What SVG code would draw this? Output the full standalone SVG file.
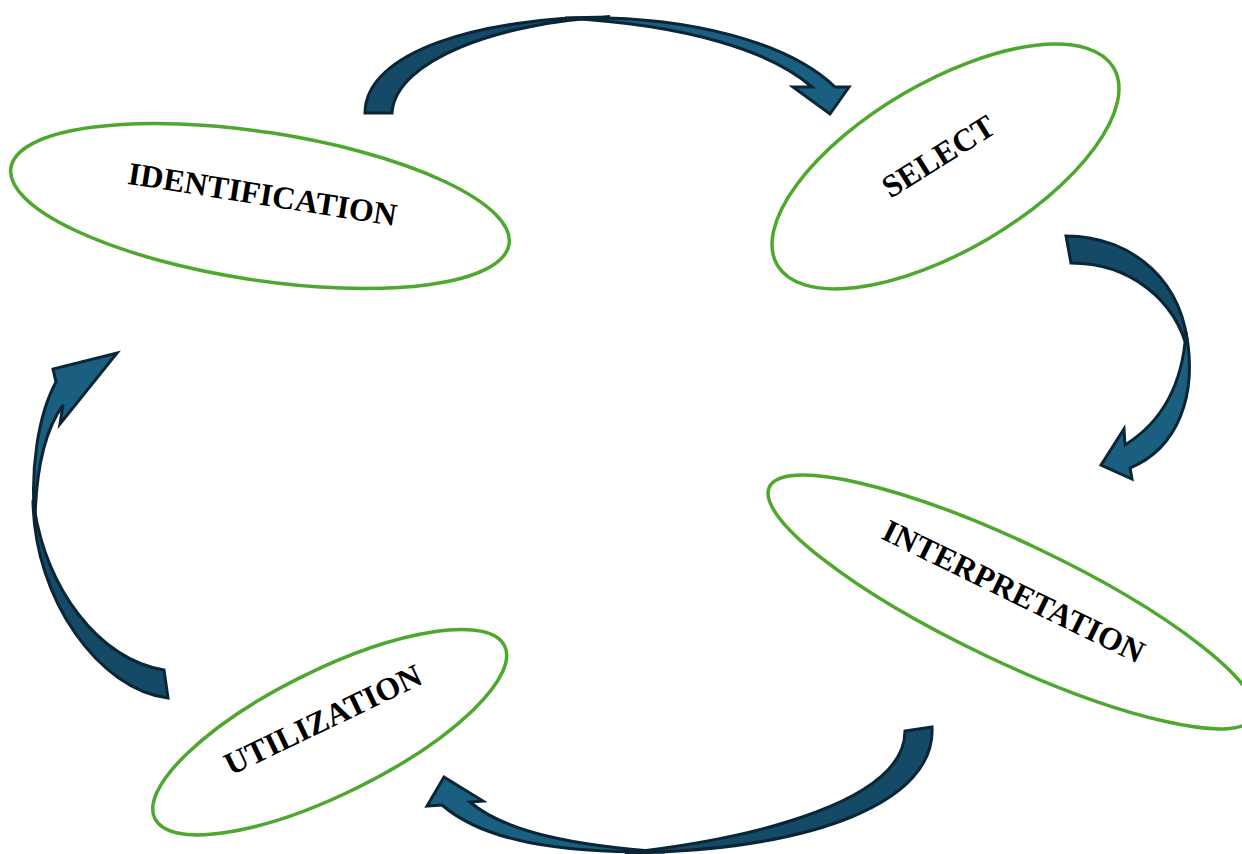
<svg xmlns="http://www.w3.org/2000/svg" width="1242" height="854" viewBox="0 0 1242 854">
  <style>
    .stage { fill: #ffffff; stroke: #4ea72e; stroke-width: 3.5; }
    .label { font-family: "Liberation Serif", "Times New Roman", serif; font-weight: bold; font-size: 32px; fill: #000000; text-anchor: middle; }
    .back { fill: #154a67; stroke: #0a2535; stroke-width: 3; stroke-linejoin: miter; }
    .front { fill: #1a5f80; stroke: #0a2535; stroke-width: 3; stroke-linejoin: miter; }
  </style>
  <rect width="1242" height="854" fill="#ffffff"/>

  <!-- curved arrows linking the stages -->
  <g id="connectors">
    <!-- IDENTIFICATION -> SELECT -->
    <g id="arrow-top">
      <path class="back" d="M365,113 C365,52 480,17 610,17 C500,22 395,60 392,113 Z"/>
      <path class="front" d="M565,18 C692,14 790,44 835,87 L849,87 L830,114 L793,87 L812,87 C772,52 690,25 565,18 Z"/>
    </g>
    <!-- SELECT -> INTERPRETATION -->
    <g id="arrow-right">
      <path class="back" d="M1066,236 C1135,236 1186,285 1188,352 C1176,300 1130,263 1071,263 Z"/>
      <path class="front" d="M1186,332 C1198,395 1178,448 1130,468 L1132,479 L1101,465 L1124,429 L1125,445 C1165,420 1183,380 1186,332 Z"/>
    </g>
    <!-- INTERPRETATION -> UTILIZATION -->
    <g id="arrow-bottom">
      <path class="back" d="M905,731 L932,727 C936,800 820,850 625,853 C760,838 905,800 905,731 Z"/>
      <path class="front" d="M470,802 L483,801 L444,777 L427,806 L442,805 C485,842 560,853 665,852 C575,846 505,832 470,802 Z"/>
    </g>
    <!-- UTILIZATION -> IDENTIFICATION -->
    <g id="arrow-left">
      <path class="back" d="M164,670 L168,698 C100,690 34,600 33,500 C45,590 100,660 164,670 Z"/>
      <path class="front" d="M56,382 L53,369 L117,353 L60,424 L63,405 C45,430 36,470 35,520 C30,470 38,415 56,382 Z"/>
    </g>
  </g>

  <g id="node-identification">
    <ellipse class="stage" cx="0" cy="0" rx="252" ry="74" transform="translate(260,206) rotate(8.7)"/>
    <text class="label" x="0" y="10.5" transform="translate(262.5,194.5) rotate(9)">IDENTIFICATION</text>
  </g>

  <g id="node-select">
    <ellipse class="stage" cx="0" cy="0" rx="195" ry="84" transform="translate(945.5,166.5) rotate(-30.4)"/>
    <text class="label" x="0" y="10.5" transform="translate(938.5,156.5) rotate(-32)">SELECT</text>
  </g>

  <g id="node-interpretation">
    <ellipse class="stage" cx="0" cy="0" rx="268" ry="59.5" transform="translate(1011.5,602) rotate(25.4)"/>
    <text class="label" x="0" y="10.5" transform="translate(1013.5,591.5) rotate(26)">INTERPRETATION</text>
  </g>

  <g id="node-utilization">
    <ellipse class="stage" cx="0" cy="0" rx="195" ry="62" transform="translate(329.7,732.2) rotate(-26.3)"/>
    <text class="label" x="0" y="10.5" transform="translate(323,720) rotate(-25.6)">UTILIZATION</text>
  </g>
</svg>
